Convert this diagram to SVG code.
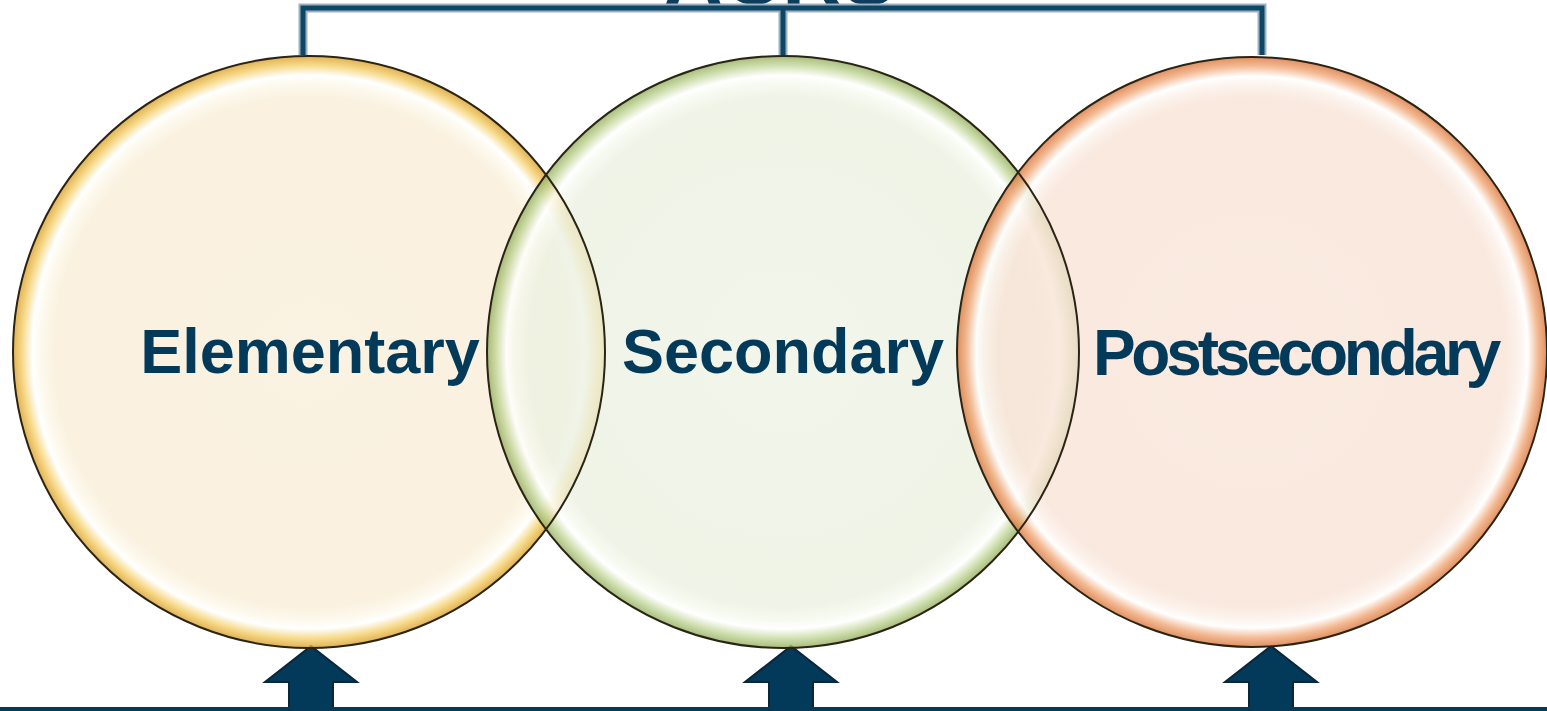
<svg xmlns="http://www.w3.org/2000/svg" width="1547" height="711" viewBox="0 0 1547 711">
<style>
.lbl{font-family:"Liberation Sans",Arial,sans-serif;font-weight:bold;fill:#033a5a;text-anchor:middle}
.ring{stroke:none;fill-opacity:0.8}
.edge{fill:none;stroke:#2a2414;stroke-width:2}
.arrow{fill:#033a5a;stroke:#0a2638;stroke-width:2}
.br{fill:none;stroke-linejoin:miter}
</style>
<defs>
<radialGradient id="gY" cx="0.5" cy="0.5" r="0.5">
<stop offset="0" stop-color="#f9efdb"/>
<stop offset="0.86" stop-color="#f9eed8"/>
<stop offset="0.91" stop-color="#fdf8ea"/>
<stop offset="0.935" stop-color="#ffffff"/>
<stop offset="0.97" stop-color="#f4cf6a"/>
<stop offset="1" stop-color="#d99e2a"/>
</radialGradient>
<radialGradient id="gG" cx="0.5" cy="0.5" r="0.5">
<stop offset="0" stop-color="#eff3e6"/>
<stop offset="0.86" stop-color="#ecf1e1"/>
<stop offset="0.91" stop-color="#f6f9ee"/>
<stop offset="0.935" stop-color="#ffffff"/>
<stop offset="0.97" stop-color="#c3d69a"/>
<stop offset="1" stop-color="#93ad5c"/>
</radialGradient>
<radialGradient id="gO" cx="0.5" cy="0.5" r="0.5">
<stop offset="0" stop-color="#f9e6da"/>
<stop offset="0.86" stop-color="#f8e3d6"/>
<stop offset="0.91" stop-color="#fcf1ea"/>
<stop offset="0.935" stop-color="#ffffff"/>
<stop offset="0.97" stop-color="#f0a878"/>
<stop offset="1" stop-color="#d9743a"/>
</radialGradient>
</defs>
<rect x="0" y="0" width="1547" height="711" fill="#ffffff"/>
<g id="title">
<text class="lbl" x="780" y="4" font-size="82" style="fill:#0e3d5c">ACRS</text>
</g>
<g id="connectors">
<path class="br" d="M303,55 V8 H1262 V55 M783,8 V55" stroke="#9db0c0" stroke-width="9"/>
<path class="br" d="M303,55 V8 H1262 V55 M783,8 V55" stroke="#0e4666" stroke-width="5"/>
<polygon class="arrow" points="311,646 357,682 333,682 333,708 289,708 289,682 265,682"/>
<polygon class="arrow" points="791,646 837,682 813,682 813,708 769,708 769,682 745,682"/>
<polygon class="arrow" points="1271,646 1317,682 1293,682 1293,708 1249,708 1249,682 1225,682"/>
<rect x="0" y="707" width="1547" height="4" fill="#033a5a"/>
</g>
<g id="elementary">
<circle class="ring" cx="309" cy="352" r="296" fill="url(#gY)"/>
</g>
<g id="secondary">
<circle class="ring" cx="783" cy="352" r="296" fill="url(#gG)"/>
</g>
<g id="postsecondary">
<circle class="ring" cx="1252" cy="352" r="295" fill="url(#gO)"/>
</g>
<g id="outlines">
<circle class="edge" cx="309" cy="352" r="296"/>
<circle class="edge" cx="783" cy="352" r="296"/>
<circle class="edge" cx="1252" cy="352" r="295"/>
</g>
<g id="labels">
<text class="lbl" x="310" y="373" font-size="63">Elementary</text>
<text class="lbl" x="783" y="373" font-size="63">Secondary</text>
<text class="lbl" x="1295" y="375" font-size="64" letter-spacing="-4.2">Postsecondary</text>
</g>
</svg>
